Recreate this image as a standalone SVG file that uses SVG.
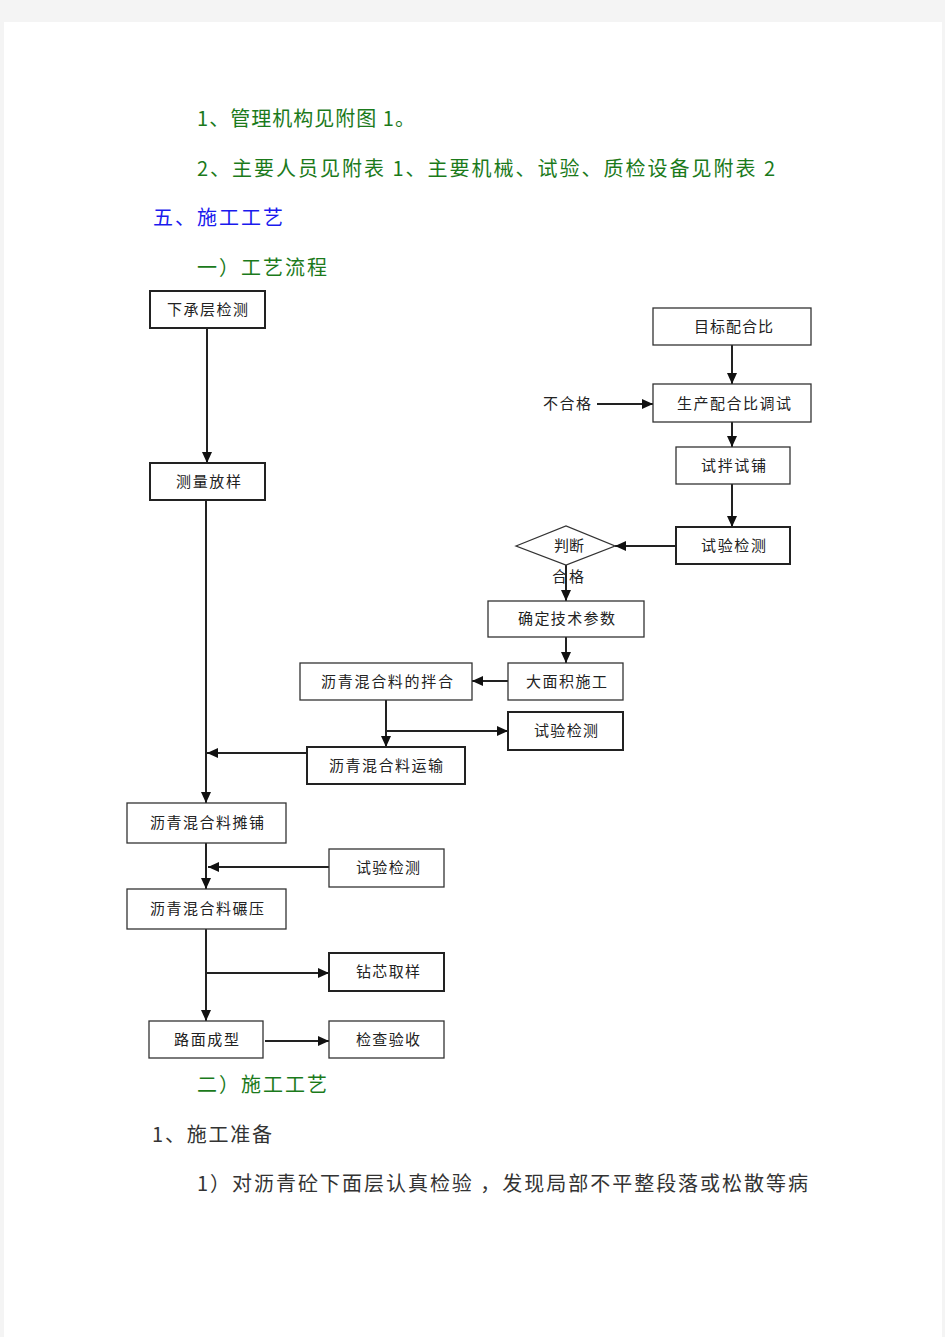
<svg xmlns="http://www.w3.org/2000/svg" width="945" height="1337" viewBox="0 0 945 1337">
<style>
.t{font-family:"Noto Sans CJK SC","Liberation Serif",serif;}
.g{fill:#1b7a1b;font-size:20px;}
.b{fill:#1a1aee;font-size:20px;}
.k{fill:#333;font-size:20px;}
.n rect,.n polygon{fill:#fff;stroke:#333;stroke-width:1.3;}
.n.h rect{stroke-width:2;stroke:#222;}
.n text{font-family:"Noto Sans CJK SC","Liberation Sans",sans-serif;font-size:15px;fill:#222;text-anchor:start;}
.c path{fill:none;stroke:#222;stroke-width:2;}
</style>
<defs>
<marker id="ar" markerUnits="userSpaceOnUse" markerWidth="12" markerHeight="10" refX="11" refY="5" orient="auto">
<path d="M0,0 L11,5 L0,10 Z" fill="#111"/>
</marker>
</defs>
<rect x="0" y="0" width="945" height="1337" fill="#f4f4f4"/>
<rect x="4" y="22" width="938" height="1315" fill="#fff"/>

<g id="text">
<text class="t g" x="197" y="126" textLength="218" lengthAdjust="spacing">1、管理机构见附图 1。</text>
<text class="t g" x="197" y="176" textLength="578" lengthAdjust="spacing">2、主要人员见附表 1、主要机械、试验、质检设备见附表 2</text>
<text class="t b" x="153" y="225" textLength="130" lengthAdjust="spacing">五、施工工艺</text>
<text class="t g" x="197" y="275" textLength="130" lengthAdjust="spacing">一）工艺流程</text>
<text class="t g" x="197" y="1092" textLength="130" lengthAdjust="spacing">二）施工工艺</text>
<text class="t k" x="152" y="1142" textLength="120" lengthAdjust="spacing">1、施工准备</text>
<text class="t k" x="197" y="1191" textLength="611" lengthAdjust="spacing">1）对沥青砼下面层认真检验 ，发现局部不平整段落或松散等病</text>
</g>

<g id="connectors" class="c">
<path d="M207,328 V463" marker-end="url(#ar)"/>
<path d="M206,501 V803" marker-end="url(#ar)"/>
<path d="M307,753 H207" marker-end="url(#ar)"/>
<path d="M732,345 V384" marker-end="url(#ar)"/>
<path d="M597,404 H653" marker-end="url(#ar)"/>
<path d="M732,422 V447" marker-end="url(#ar)"/>
<path d="M732,484 V527" marker-end="url(#ar)"/>
<path d="M676,546 H615" marker-end="url(#ar)"/>
<path d="M566,565 V601" marker-end="url(#ar)"/>
<path d="M566,637 V663" marker-end="url(#ar)"/>
<path d="M508,681 H472" marker-end="url(#ar)"/>
<path d="M386,700 V747" marker-end="url(#ar)"/>
<path d="M386,731 H508" marker-end="url(#ar)"/>
<path d="M206,843 V889" marker-end="url(#ar)"/>
<path d="M329,867 H208" marker-end="url(#ar)"/>
<path d="M206,929 V1021" marker-end="url(#ar)"/>
<path d="M206,973 H329" marker-end="url(#ar)"/>
<path d="M265,1041 H329" marker-end="url(#ar)"/>
</g>

<g id="n1" class="n h"><rect x="150" y="291" width="115" height="37"/><text x="167" y="315" textLength="81" lengthAdjust="spacing">下承层检测</text></g>
<g id="n2" class="n h"><rect x="150" y="463" width="115" height="37"/><text x="176" y="487" textLength="65" lengthAdjust="spacing">测量放样</text></g>
<g id="n3" class="n"><rect x="653" y="308" width="158" height="37"/><text x="694" y="332" textLength="79" lengthAdjust="spacing">目标配合比</text></g>
<g id="n4" class="n"><rect x="653" y="384" width="158" height="38"/><text x="677" y="409" textLength="114" lengthAdjust="spacing">生产配合比调试</text></g>
<g id="n5" class="n"><rect x="676" y="447" width="114" height="37"/><text x="701" y="471" textLength="65" lengthAdjust="spacing">试拌试铺</text></g>
<g id="n6" class="n h"><rect x="676" y="527" width="114" height="37"/><text x="701" y="551" textLength="65" lengthAdjust="spacing">试验检测</text></g>
<g id="n7" class="n"><polygon points="516,546 566,526 615,546 566,565"/><text x="554" y="551" textLength="30" lengthAdjust="spacing">判断</text></g>
<g id="n8" class="n"><rect x="488" y="601" width="156" height="36"/><text x="518" y="624" textLength="97" lengthAdjust="spacing">确定技术参数</text></g>
<g id="n9" class="n"><rect x="508" y="663" width="115" height="37"/><text x="526" y="687" textLength="81" lengthAdjust="spacing">大面积施工</text></g>
<g id="n10" class="n"><rect x="300" y="663" width="172" height="37"/><text x="321" y="687" textLength="132" lengthAdjust="spacing">沥青混合料的拌合</text></g>
<g id="n11" class="n h"><rect x="508" y="712" width="115" height="38"/><text x="534" y="736" textLength="64" lengthAdjust="spacing">试验检测</text></g>
<g id="n12" class="n h"><rect x="307" y="747" width="158" height="37"/><text x="329" y="771" textLength="114" lengthAdjust="spacing">沥青混合料运输</text></g>
<g id="n13" class="n"><rect x="127" y="803" width="159" height="40"/><text x="150" y="828" textLength="114" lengthAdjust="spacing">沥青混合料摊铺</text></g>
<g id="n14" class="n"><rect x="329" y="849" width="115" height="38"/><text x="356" y="873" textLength="64" lengthAdjust="spacing">试验检测</text></g>
<g id="n15" class="n"><rect x="127" y="889" width="159" height="40"/><text x="150" y="914" textLength="114" lengthAdjust="spacing">沥青混合料碾压</text></g>
<g id="n16" class="n h"><rect x="329" y="953" width="115" height="38"/><text x="356" y="977" textLength="64" lengthAdjust="spacing">钻芯取样</text></g>
<g id="n17" class="n"><rect x="149" y="1021" width="114" height="37"/><text x="174" y="1045" textLength="65" lengthAdjust="spacing">路面成型</text></g>
<g id="n18" class="n"><rect x="329" y="1021" width="115" height="37"/><text x="356" y="1045" textLength="64" lengthAdjust="spacing">检查验收</text></g>
<g id="labels" class="n">
<text x="543" y="409" textLength="48" lengthAdjust="spacing">不合格</text>
<text x="552" y="582" textLength="32" lengthAdjust="spacing">合格</text>
</g>
</svg>
